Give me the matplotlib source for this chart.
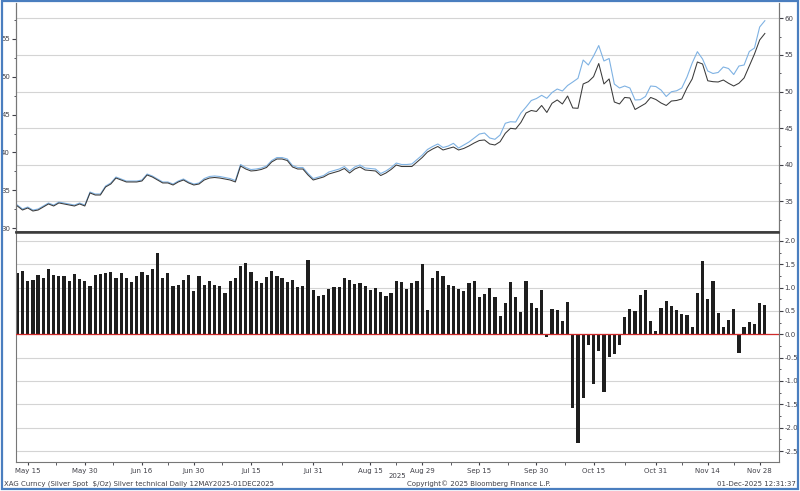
import numpy as np
import pandas as pd
import matplotlib
matplotlib.use('Agg')
import matplotlib.pyplot as plt
from matplotlib.patches import Rectangle
from matplotlib.ticker import MultipleLocator, FormatStrFormatter

# trading days 13 May 2025 .. 01 Dec 2025
dates = pd.bdate_range('2025-05-13', '2025-12-01')

# black line (left scale)
black = [32.94, 32.41, 32.68, 32.28, 32.41, 32.81, 33.21, 32.94, 33.34, 33.21,
         33.07, 32.94, 33.21, 32.94, 34.66, 34.39, 34.39, 35.45, 35.84, 36.63,
         36.37, 36.11, 36.11, 36.11, 36.24, 37.03, 36.77, 36.37, 35.98, 35.98,
         35.71, 36.11, 36.37, 35.98, 35.71, 35.84, 36.37, 36.63, 36.70, 36.63,
         36.50, 36.37, 36.11, 38.22, 37.82, 37.56, 37.62, 37.76, 38.02, 38.75,
         39.14, 39.14, 38.94, 38.09, 37.82, 37.82, 37.03, 36.37, 36.57, 36.77,
         37.16, 37.36, 37.56, 37.89, 37.29, 37.82, 38.09, 37.69, 37.62, 37.56,
         36.96, 37.29, 37.76, 38.35, 38.15, 38.15, 38.15, 38.75, 39.34, 40.06,
         40.46, 40.79, 40.33, 40.53, 40.72, 40.33, 40.53, 40.86, 41.25, 41.58,
         41.65, 41.12, 40.99, 41.42, 42.53, 43.19, 43.10, 43.96, 45.21, 45.54,
         45.41, 46.20, 45.28, 46.49, 46.93, 46.40, 47.45, 45.87, 45.83, 49.04,
         49.34, 50.00, 51.74, 49.04, 49.70, 46.66, 46.40, 47.26, 47.19, 45.67,
         46.07, 46.46, 47.26, 46.99, 46.53, 46.20, 46.79, 46.86, 47.06, 48.51,
         49.70, 51.94, 51.67, 49.46, 49.34, 49.30, 49.56, 49.13, 48.77, 49.13,
         49.83, 51.41, 52.99, 54.84, 55.70]

# blue line (right scale)
blue = [34.49, 33.95, 34.22, 33.81, 33.95, 34.36, 34.77, 34.49, 34.90, 34.77,
        34.63, 34.49, 34.77, 34.49, 36.27, 36.00, 36.00, 37.09, 37.50, 38.32,
        38.05, 37.77, 37.77, 37.77, 37.91, 38.73, 38.46, 38.05, 37.64, 37.64,
        37.36, 37.77, 38.05, 37.64, 37.36, 37.50, 38.11, 38.39, 38.46, 38.39,
        38.25, 38.11, 37.84, 40.03, 39.62, 39.34, 39.41, 39.55, 39.82, 40.57,
        40.98, 40.98, 40.78, 39.89, 39.62, 39.62, 38.80, 38.11, 38.32, 38.52,
        39.00, 39.21, 39.41, 39.75, 39.14, 39.69, 39.96, 39.55, 39.48, 39.41,
        38.80, 39.14, 39.62, 40.23, 40.03, 40.03, 40.10, 40.71, 41.32, 42.08,
        42.49, 42.83, 42.35, 42.55, 42.92, 42.28, 42.69, 43.10, 43.65, 44.19,
        44.33, 43.65, 43.47, 44.06, 45.66, 45.87, 45.83, 47.06, 47.88, 48.77,
        49.04, 49.48, 49.07, 49.86, 50.34, 50.07, 50.82, 51.30, 51.80, 54.30,
        53.62, 54.85, 56.28, 54.17, 54.51, 51.02, 50.48, 50.75, 50.48, 48.84,
        48.88, 49.32, 50.75, 50.68, 50.20, 49.32, 49.97, 50.10, 50.48, 51.98,
        53.89, 55.44, 54.44, 52.80, 52.46, 52.60, 53.35, 53.14, 52.32, 53.48,
        53.62, 55.46, 55.94, 58.81, 59.67]

# lower panel histogram
bars = [1.32, 1.36, 1.15, 1.16, 1.26, 1.21, 1.39, 1.28, 1.24, 1.24,
        1.15, 1.29, 1.19, 1.14, 1.04, 1.26, 1.29, 1.31, 1.34, 1.21,
        1.31, 1.21, 1.12, 1.24, 1.34, 1.26, 1.39, 1.75, 1.21, 1.31,
        1.04, 1.05, 1.16, 1.26, 0.93, 1.24, 1.05, 1.15, 1.05, 1.04,
        0.89, 1.15, 1.21, 1.46, 1.52, 1.34, 1.14, 1.09, 1.22, 1.36,
        1.24, 1.21, 1.13, 1.17, 1.01, 1.04, 1.59, 0.94, 0.82, 0.85,
        0.96, 1.01, 1.01, 1.21, 1.16, 1.07, 1.09, 1.04, 0.95, 0.99,
        0.90, 0.82, 0.89, 1.14, 1.11, 0.97, 1.09, 1.14, 1.50, 0.51,
        1.21, 1.36, 1.24, 1.05, 1.04, 0.96, 0.93, 1.09, 1.15, 0.79,
        0.86, 0.99, 0.80, 0.39, 0.68, 1.11, 0.80, 0.48, 1.14, 0.66,
        0.57, 0.94, -0.05, 0.55, 0.53, 0.29, 0.70, -1.57, -2.32, -1.36,
        -0.23, -1.06, -0.35, -1.23, -0.48, -0.43, -0.24, 0.36, 0.55, 0.50,
        0.84, 0.94, 0.29, 0.07, 0.57, 0.72, 0.60, 0.51, 0.43, 0.42,
        0.16, 0.89, 1.56, 0.76, 1.14, 0.46, 0.16, 0.31, 0.55, -0.39,
        0.16, 0.26, 0.21, 0.68, 0.63]

tick_dates = ['2025-05-15', '2025-05-30', '2025-06-16', '2025-06-30', '2025-07-15',
              '2025-07-31', '2025-08-15', '2025-08-29', '2025-09-15', '2025-09-30',
              '2025-10-15', '2025-10-31', '2025-11-14', '2025-11-28']
tick_labels = ['May 15', 'May 30', 'Jun 16', 'Jun 30', 'Jul 15', 'Jul 31', 'Aug 15',
               'Aug 29', 'Sep 15', 'Sep 30', 'Oct 15', 'Oct 31', 'Nov 14', 'Nov 28']

x = np.arange(len(dates))
tick_pos = [dates.get_loc(pd.Timestamp(d)) for d in tick_dates]
minor_pos = [(a + b) / 2 for a, b in zip(tick_pos[:-1], tick_pos[1:])]

txt = '#404048'
grid = '#d4d4d4'

fig = plt.figure(figsize=(8, 4.91), dpi=100)
ax1 = fig.add_axes([0.0194, 0.5275, 0.954, 0.4664])
axl = ax1.twinx()
ax2 = fig.add_axes([0.0194, 0.0591, 0.954, 0.4664], sharex=ax1)

# top panel
ax1.plot(x, blue, color='#7fb2e3', lw=0.8)
ax1.set_ylim(30.81, 62.09)
ax1.yaxis.tick_right()
ax1.yaxis.set_major_locator(MultipleLocator(5))
ax1.yaxis.set_minor_locator(MultipleLocator(2.5))
ax1.grid(axis='y', color=grid, lw=0.8)
ax1.tick_params(axis='y', which='major', labelsize=5, colors=txt, length=3, pad=1)
ax1.tick_params(axis='y', which='minor', length=1.5, color=txt)
ax1.tick_params(axis='x', bottom=False, labelbottom=False)

axl.plot(x, black, color='#3a3a3a', lw=0.75)
axl.set_ylim(29.51, 59.72)
axl.yaxis.tick_left()
axl.yaxis.set_major_locator(MultipleLocator(5))
axl.yaxis.set_minor_locator(MultipleLocator(2.5))
axl.tick_params(axis='y', which='major', labelsize=5, colors=txt, length=3, pad=1)
axl.tick_params(axis='y', which='minor', length=1.5, color=txt)

for a in (ax1, axl):
    a.spines['top'].set_visible(False)
    a.spines['bottom'].set_color('#3a3a3a')
    a.spines['bottom'].set_linewidth(1.1)
    a.spines['left'].set_color('#777777')
    a.spines['right'].set_color('#777777')

# bottom panel
ax2.bar(x, bars, width=0.62, color='#1e1e1e', zorder=2)
ax2.axhline(0, color='#d02a2a', lw=0.9, zorder=3)
ax2.set_ylim(-2.734, 2.169)
ax2.set_xlim(-0.35, 146.67)
ax2.yaxis.tick_right()
ax2.yaxis.set_major_locator(MultipleLocator(0.5))
ax2.yaxis.set_minor_locator(MultipleLocator(0.25))
ax2.yaxis.set_major_formatter(FormatStrFormatter('%.1f'))
ax2.grid(axis='y', color=grid, lw=0.8, zorder=0)
ax2.tick_params(axis='y', which='major', labelsize=5, colors=txt, length=3, pad=1)
ax2.tick_params(axis='y', which='minor', length=1.5, color=txt)
ax2.set_xticks(tick_pos)
ax2.set_xticklabels(tick_labels)
ax2.set_xticks(minor_pos, minor=True)
ax2.tick_params(axis='x', which='major', labelsize=5, colors=txt, length=2.5, pad=1.5)
ax2.tick_params(axis='x', which='minor', length=2, color=txt)
ax2.spines['top'].set_color('#3a3a3a')
ax2.spines['top'].set_linewidth(1.1)
for s in ('left', 'right', 'bottom'):
    ax2.spines[s].set_color('#777777')

fig.text(397 / 800, 1 - 476 / 491, '2025', ha='center', va='center', fontsize=5, color=txt)
fig.text(4 / 800, 1 - 484 / 491, 'XAG Curncy (Silver Spot  $/Oz) Silver technical Daily 12MAY2025-01DEC2025',
         ha='left', va='center', fontsize=5, color=txt)
fig.text(479 / 800, 1 - 484 / 491, 'Copyright\u00a9 2025 Bloomberg Finance L.P.',
         ha='center', va='center', fontsize=5, color=txt)
fig.text(796 / 800, 1 - 484 / 491, '01-Dec-2025 12:31:37',
         ha='right', va='center', fontsize=5, color=txt)

# blue frame round the whole picture
fig.patches.append(Rectangle((0.002, 0.004), 0.995, 0.993, transform=fig.transFigure,
                             fill=False, edgecolor='#4a7ebf', lw=1.6))

fig.savefig('out.png', dpi=100)
